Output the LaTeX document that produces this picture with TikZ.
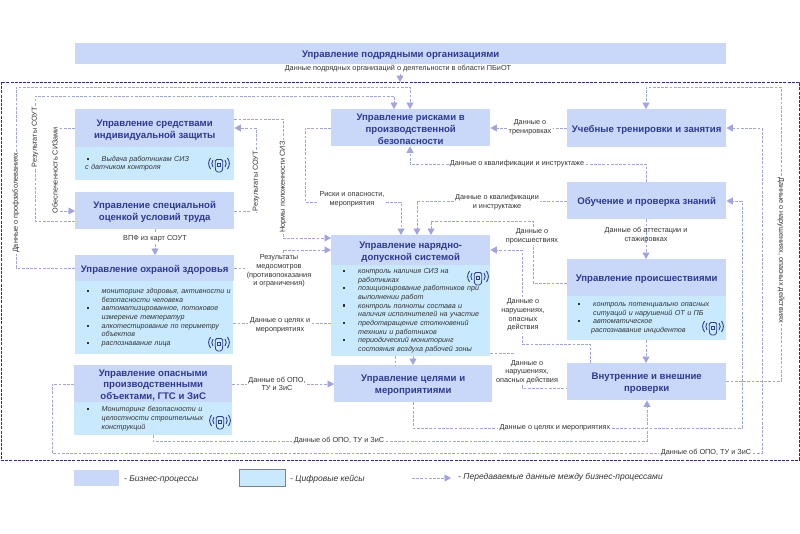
\documentclass[tikz,border=0pt]{standalone}
\usepackage{fontspec}
\setmainfont{Liberation Sans}
\usetikzlibrary{arrows.meta,calc}
\pgfdeclarelayer{fg}
\pgfsetlayers{main,fg}
\definecolor{headblue}{HTML}{C9D7F8}
\definecolor{bodyblue}{HTML}{C9EAFE}
\definecolor{navytext}{HTML}{2E3A94}
\definecolor{linkcol}{HTML}{A0A5E2}
\definecolor{outercol}{HTML}{27308F}
\definecolor{labelcol}{HTML}{333333}
\newcommand{\bl}[1][11.5pt]{\hspace*{#1}\makebox[15pt][l]{\raisebox{1.5pt}{\rule{2.2pt}{2.2pt}}}}
\newcommand{\nb}[1][26.5pt]{\hspace*{#1}}
\tikzset{
  x=1pt,y=-1pt,
  headbox/.style={draw=none,fill=headblue,text=navytext,font=\fontsize{9.6}{11.8}\selectfont\bfseries,align=center,inner sep=0pt,anchor=north west},
  bodybox/.style={draw=none,fill=bodyblue,text=labelcol,font=\fontsize{7.2}{8.65}\selectfont\itshape,align=left,inner sep=0pt,anchor=north west},
  lbl/.style={fill=white,text=labelcol,font=\fontsize{7.3}{8.7}\selectfont,align=center,inner sep=1.2pt},
  rlbl/.style={lbl,rotate=90},
  legtxt/.style={anchor=west,font=\fontsize{8.5}{10}\selectfont\itshape,text=labelcol,inner sep=0pt},
  link/.style={draw=linkcol,line width=0.8pt,dash pattern=on 2.8pt off 1.4pt},
  arr/.style={link,-{Triangle[length=6.5pt,width=7pt,fill=linkcol]}},
  lamp/.pic={
    \draw[navytext,line width=0.8pt,rounded corners=1.5pt] (-3.8,-5.5)--(3.8,-5.5)--(3.8,3)--(2.8,7)--(-2.8,7)--(-3.8,3)--cycle;
    \draw[navytext,line width=0.6pt] (-1.5,-2.2) rectangle (1.5,0.8);
    \draw[navytext,line width=0.9pt] (-6,-5) .. controls (-7.6,-2.5) and (-7.6,-0.5) .. (-6,2);
    \draw[navytext,line width=0.9pt] (6,-5) .. controls (7.6,-2.5) and (7.6,-0.5) .. (6,2);
    \draw[navytext,line width=0.9pt] (-8.5,-7) .. controls (-11,-3) and (-11,0) .. (-8.5,4);
    \draw[navytext,line width=0.9pt] (8.5,-7) .. controls (11,-3) and (11,0) .. (8.5,4);
  }
}
\newcommand{\hbx}[6]{\node[headbox,minimum width=#4pt,minimum height=#5pt] (#1) at (#2,#3) {\rule{0pt}{10pt}#6};}
\newcommand{\bbx}[6]{\node[bodybox,minimum width=#4pt,minimum height=#5pt,text width=#4pt] (#1) at (#2,#3) {#6};}
\begin{document}
\begin{tikzpicture}
\useasboundingbox (0,0) rectangle (800,533);
\fill[white] (0,0) rectangle (800,533);
% boxes
\hbx{podr}{75}{43}{651}{21}{Управление подрядными организациями}
\hbx{siz}{75}{109}{159}{38}{Управление средствами\\индивидуальной защиты}
\bbx{sizb}{75}{147}{159}{33}{\bl Выдача работникам СИЗ\\\nb[10pt]с датчиком контроля}
\hbx{sout}{75}{192}{159}{37}{Управление специальной\\оценкой условий труда}
\hbx{ohr}{75}{255}{159}{26}{Управление охраной здоровья}
\bbx{ohrb}{75}{281}{158}{73}{\bl мониторинг здоровья, активности и\\\nb безопасности человека\\\bl автоматизированное, потоковое\\\nb измерение температур\\\bl алкотестирование по периметру\\\nb объектов\\\bl распознавание лица}
\hbx{opo}{74}{365}{158}{37}{Управление опасными\\производственными\\объектами, ГТС и ЗиС}
\bbx{opob}{74}{402}{158}{33}{\bl[12.5pt]Мониторинг безопасности и\\\nb[27.5pt]целостности строительных\\\nb[27.5pt]конструкций}
\hbx{risk}{331}{109}{159}{37}{Управление рисками в\\производственной\\безопасности}
\hbx{nar}{331}{235}{159}{30}{Управление нарядно-\\допускной системой}
\bbx{narb}{331}{265}{159}{91}{\bl[12pt]контроль наличия СИЗ на\\\nb[27pt]работниках\\\bl[12pt]позиционирование работников при\\\nb[27pt]выполнении работ\\\bl[12pt]контроль полноты состава и\\\nb[27pt]наличия исполнителей на участие\\\bl[12pt]предотвращение столкновений\\\nb[27pt]техники и работников\\\bl[12pt]периодический мониторинг\\\nb[27pt]состояния воздуха рабочей зоны}
\hbx{tsel}{334}{365}{158}{37}{Управление целями и\\мероприятиями}
\hbx{uch}{567}{109}{159}{38}{Учебные тренировки и занятия}
\hbx{obu}{567}{182}{159}{37}{Обучение и проверка знаний}
\hbx{pro}{567}{259}{159}{37}{Управление происшествиями}
\bbx{prob}{567}{296}{159}{44}{\bl[11pt]контроль потенциально опасных\\\nb[26pt]ситуаций и нарушений ОТ и ПБ\\\bl[11pt]автоматическое\\\nb[24pt]распознавание инцидентов}
\hbx{vnu}{567}{363}{159}{37}{Внутренние и внешние\\проверки}
% icons
\pic at (219,165) {lamp};
\pic at (219,344) {lamp};
\pic at (220,422) {lamp};
\pic at (478,278) {lamp};
\pic at (713,328) {lamp};
% outer frame
\draw[draw=outercol,line width=1pt,dash pattern=on 3pt off 1.2pt] (1,82) rectangle (799,460);
% labels
\begin{pgfonlayer}{fg}
\node[lbl] (lpodr) at (398,69) {Данные подрядных организаций о деятельности в области ПБиОТ};
\node[rlbl] (lprof) at (16,203) {Данные о профзаболеваниях};
\node[rlbl] (lsout1) at (35,137) {Результаты СОУТ};
\node[rlbl] (lobes) at (55,170) {Обеспеченность СИЗами};
\node[rlbl] (lsout2) at (256,181) {Результаты СОУТ};
\node[rlbl] (lnorm) at (283,187) {Нормы положенности СИЗ};
\node[lbl] (lvpf) at (155,239) {ВПФ из карт СОУТ};
\node[lbl] (lmed) at (279,271) {Результаты\\медосмотров\\(противопоказания\\и ограничения)};
\node[lbl] (lts1) at (280,325) {Данные о целях и\\мероприятиях};
\node[lbl] (lopo1) at (277,384) {Данные об ОПО,\\ТУ и ЗиС};
\node[lbl] (lopo2) at (339,441) {Данные об ОПО, ТУ и ЗиС};
\node[lbl] (lopo3) at (706,453) {Данные об ОПО, ТУ и ЗиС};
\node[lbl] (lrisk) at (352,199) {Риски и опасности,\\мероприятия};
\node[lbl] (lkv1) at (497,202) {Данные о квалификации\\и инструктаже};
\node[lbl] (lpro) at (532,236) {Данные о\\происшествиях};
\node[lbl] (lnar1) at (523,315) {Данные о\\нарушениях,\\опасных\\действия};
\node[lbl] (lnar2) at (527,372) {Данные о\\нарушениях,\\опасных действия};
\node[lbl] (lts2) at (555,428) {Данные о целях и мероприятиях};
\node[lbl,rotate=-90] (lnar3) at (781,250) {Данные о нарушениях, опасных действиях};
\node[lbl] (ltr) at (530,127) {Данные о\\тренировках};
\node[lbl] (lkv2) at (517,164) {Данные о квалификации и инструктаже};
\node[lbl,fill=none] (latt) at (646,235) {Данные об аттестации и\\стажировках};
\end{pgfonlayer}
% waypoints
\coordinate (top) at (400,82);
\coordinate (nar2stop) at (514,353);
% connectors
\draw[arr] (lpodr.south -| top) -- (top);
\draw[link] (ohr.west |- 0,268) -| (lprof);
\draw[arr] (lprof) |- (410,87) -- (risk.north -| 410,0);
\draw[link] (sout.west |- 0,221) -| (lsout1);
\draw[arr] (lsout1) |- (394,96) -- (risk.north -| 394,0);
\draw[link] (siz.west |- 0,128) -| (lobes);
\draw[arr] (lobes) |- (sout.west |- 0,211);
\draw[link] (sout.east |- 0,211) -| (lsout2);
\draw[arr] (lsout2) |- (siz.east |- 0,128);
\draw[link] (siz.east |- 0,119) -| (lnorm);
\draw[arr] (lnorm) |- (nar.west |- 0,238);
\draw[link] (sout.south -| lvpf) -- (lvpf);
\draw[arr] (lvpf) -- (ohr.north -| lvpf);
\draw[link] (ohr.east |- 0,268) -- (lmed.west |- 0,268);
\draw[arr] (lmed.north -| 283,0) |- (nar.west |- 0,250);
\draw[link] (ohrb.east |- 0,323) -- (lts1.west |- 0,323);
\draw[link] (lts1.east |- 0,323) -- (narb.west |- 0,323);
\draw[link] (narb.south -| 395,0) -- (tsel.north -| 395,0);
\draw[arr] (narb.south -| 413,0) -- (tsel.north -| 413,0);
\draw[link] (opo.east |- 0,384) -- (lopo1.west |- 0,384);
\draw[arr] (lopo1.east |- 0,384) -- (tsel.west |- 0,384);
\draw[link] (opob.south -| 153,0) |- (lopo2.west);
\draw[arr] (lopo2.east) -| (vnu.south -| 647,0);
\draw[link] (opo.west |- 0,384) -- (52,384) |- (lopo3.west);
\draw[arr] (lopo3.east) -| (762,128) -- (uch.east |- 0,128);
\draw[link] (risk.west |- 0,128) -- (305,128) |- (lrisk.west |- 0,202);
\draw[arr] (lrisk.east |- 0,202) -| (nar.north -| 401,0);
\draw[link] (obu.west |- 0,201) -- (lkv1.east |- 0,201);
\draw[arr] (lkv1.west |- 0,201) -| (nar.north -| 417,0);
\draw[link] (pro.west |- 0,283) -| (lpro.south -| 533,0);
\draw[arr] (lpro.north -| 533,0) |- (431,221) -- (nar.north -| 431,0);
\draw[link] (vnu.north -| 590,0) |- (522,344) -- (lnar1.south -| 522,0);
\draw[arr] (lnar1.north -| 522,0) |- (nar.east |- 0,250);
\draw[link] (narb.east |- nar2stop) -- (nar2stop);
\draw[link] (lnar2.south -| 522,0) |- (vnu.west |- 0,388);
\draw[link] (tsel.south -| 413,0) |- (lts2.west);
\draw[arr] (lts2.east) -| (742,201) -- (obu.east |- 0,201);
\draw[link] (vnu.east |- 0,381) -| (lnar3);
\draw[arr] (lnar3) |- (646,87) -- (uch.north -| 646,0);
\draw[link] (uch.west |- 0,128) -- (ltr.east |- 0,128);
\draw[arr] (ltr.west |- 0,128) -- (risk.east |- 0,128);
\draw[link] (obu.north -| 646,0) |- (lkv2.east);
\draw[arr] (lkv2.west) -| (risk.south -| 410,0);
\draw[arr] (obu.south -| 646,0) -- (pro.north -| 646,0);
\draw[arr] (prob.south -| 646,0) -- (vnu.north -| 646,0);
% legend
\node[draw=none,fill=headblue,minimum width=45pt,minimum height=16pt,inner sep=0pt,anchor=north west] (lg1) at (74,470) {};
\node[legtxt] (lgt1) at (124,479) {- Бизнес-процессы};
\node[draw=gray,line width=0.7pt,fill=bodyblue,minimum width=46pt,minimum height=17pt,inner sep=0pt,anchor=north west] (lg2) at (239,469) {};
\node[legtxt] (lgt2) at (290,479) {- Цифровые кейсы};
\node[legtxt] (lgt3) at (458,477) {- Передаваемые данные между бизнес-процессами};
\coordinate (lgs) at (412,478);
\draw[arr,shorten >=7pt] (lgs) -- (lgt3.west |- lgs);
\end{tikzpicture}
\end{document}
